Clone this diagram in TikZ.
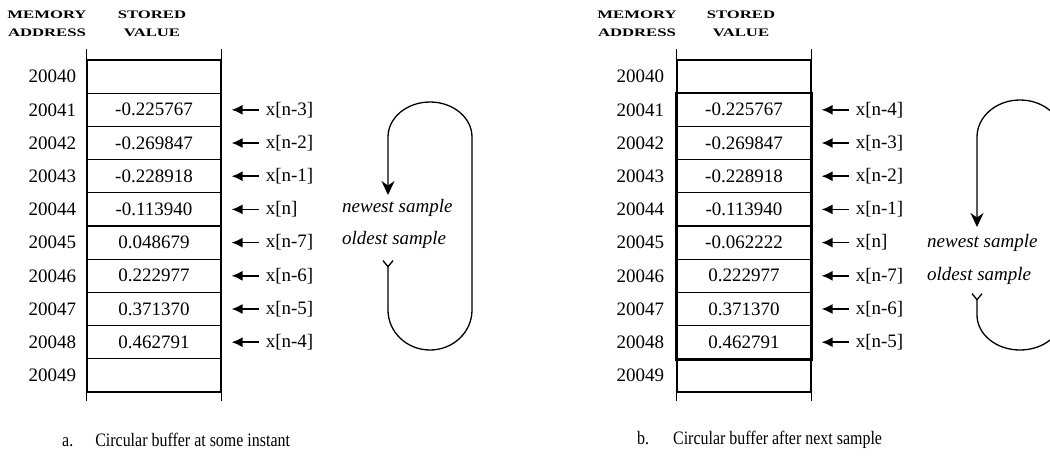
\documentclass[tikz,border=0pt]{standalone}
\usepackage{fontspec}
\setmainfont{Liberation Serif}
\newfontfamily\headfont{Liberation Serif}[FakeStretch=1.45]
\newfontfamily\capfont{Liberation Serif}[FakeStretch=0.84]
\usetikzlibrary{positioning,arrows.meta}

\tikzset{
  cell/.style={draw,line width=1.2pt,minimum width=134pt,minimum height=33.2pt,inner sep=0pt,font=\fontsize{19}{22}\selectfont},
  addr/.style={inner sep=0pt,font=\fontsize{19}{22}\selectfont},
  ptr/.style={inner sep=0pt,font=\fontsize{19}{22}\selectfont},
  head/.style={inner sep=0pt,align=center,font=\headfont\bfseries\fontsize{11.5}{18}\selectfont},
  note/.style={inner sep=0pt,anchor=west,font=\itshape\fontsize{19}{22}\selectfont},
  caption/.style={inner sep=0pt,anchor=west,font=\capfont\fontsize{19}{22}\selectfont},
  ptrarrow/.style={-{Latex[length=11pt,width=10pt]},line width=1.5pt},
  looparrow/.style={{Straight Barb[reversed,length=6pt,width=10pt]}-{Stealth[length=14pt,width=13pt]},line width=1.3pt},
}

\begin{document}
\begin{tikzpicture}[x=1pt,y=-1pt]
  \clip (0,0) rectangle (1050,456);

  % a. buffer at some instant
  \node[head] (hmemA) at (47,24) {MEMORY\\ADDRESS};
  \node[head] (hvalA) at (152,24) {STORED\\VALUE};
  \foreach \v [count=\i from 0] in {{},-0.225767,-0.269847,-0.228918,-0.113940,0.048679,0.222977,0.371370,0.462791,{}} {
    \node[cell] (a\i) at (154,{76.6+33.2*\i}) {\v};
    \node[addr,left=10pt of a\i] (adrA\i) {2004\i};
  }
  \draw[line width=1.2pt] (a0.north west) -- ++(0,-10) (a0.north east) -- ++(0,-10);
  \draw[line width=1.2pt] (a9.south west) -- ++(0,8) (a9.south east) -- ++(0,8);
  \foreach \p [count=\i] in {{x[n-3]},{x[n-2]},{x[n-1]},{x[n]},{x[n-7]},{x[n-6]},{x[n-5]},{x[n-4]}} {
    \node[ptr,right=44pt of a\i] (pa\i) {\p};
    \draw[ptrarrow] ([xshift=-7pt]pa\i.west) -- ([xshift=10pt]a\i.east);
  }
  \node[note] (newA) at (342,208) {newest sample};
  \node[note] (oldA) at (342,240) {oldest sample};
  \coordinate (tailA) at (388,260);
  \coordinate (tipA) at (388,195);
  \draw[looparrow] (tailA) -- (388,310) arc[start angle=180,end angle=0,x radius=42,y radius=40]
    -- (472,137) arc[start angle=0,end angle=-180,x radius=42,y radius=35] -- (tipA);
  \node[caption] (capA) at (62,440) {a.\hspace{22pt}Circular buffer at some instant};

  % b. buffer after next sample
  \node[head] (hmemB) at (637,24) {MEMORY\\ADDRESS};
  \node[head] (hvalB) at (741,24) {STORED\\VALUE};
  \foreach \v [count=\i from 0] in {{},-0.225767,-0.269847,-0.228918,-0.113940,-0.062222,0.222977,0.371370,0.462791,{}} {
    \node[cell] (b\i) at (744,{76.6+33.2*\i}) {\v};
    \node[addr,left=12pt of b\i] (adrB\i) {2004\i};
  }
  \draw[line width=2.2pt] (b1.north west) rectangle (b8.south east);
  \draw[line width=1.2pt] (b0.north west) -- ++(0,-10) (b0.north east) -- ++(0,-10);
  \draw[line width=1.2pt] (b9.south west) -- ++(0,8) (b9.south east) -- ++(0,8);
  \foreach \p [count=\i] in {{x[n-4]},{x[n-3]},{x[n-2]},{x[n-1]},{x[n]},{x[n-7]},{x[n-6]},{x[n-5]}} {
    \node[ptr,right=44pt of b\i] (pb\i) {\p};
    \draw[ptrarrow] ([xshift=-7pt]pb\i.west) -- ([xshift=10pt]b\i.east);
  }
  \node[note] (newB) at (927,243) {newest sample};
  \node[note] (oldB) at (927,276) {oldest sample};
  \coordinate (tailB) at (977,293);
  \coordinate (tipB) at (977,227);
  \draw[looparrow] (tailB) -- (977,315) arc[start angle=180,end angle=0,x radius=43,y radius=35]
    -- (1063,137) arc[start angle=0,end angle=-180,x radius=43,y radius=37] -- (tipB);
  \node[caption] (capB) at (637,440) {b.\hspace{24pt}Circular buffer after next sample};
\end{tikzpicture}
\end{document}
